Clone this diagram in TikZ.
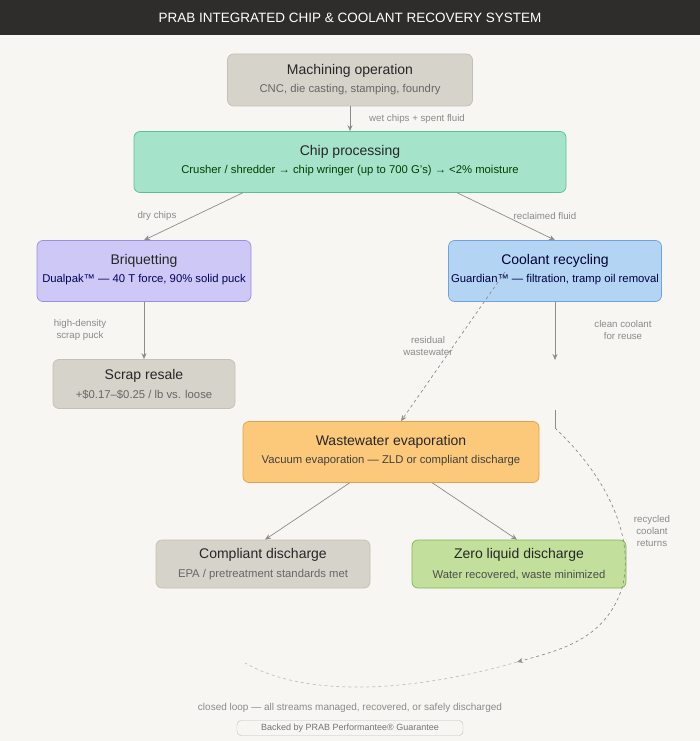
\documentclass[tikz,border=0pt]{standalone}
\usepackage{fontspec}
\setmainfont{Liberation Sans}
\usetikzlibrary{arrows.meta}
\definecolor{bg}{HTML}{F7F6F2}
\definecolor{bar}{HTML}{2E2D2B}
\definecolor{grayF}{HTML}{D6D3CA}\definecolor{grayB}{HTML}{C4C0B5}
\definecolor{grnF}{HTML}{A6E3CB}\definecolor{grnB}{HTML}{5DBE98}
\definecolor{purF}{HTML}{CEC8F6}\definecolor{purB}{HTML}{9C8EE2}
\definecolor{bluF}{HTML}{B4D4F4}\definecolor{bluB}{HTML}{6FA2DE}
\definecolor{orF}{HTML}{FCC97B}\definecolor{orB}{HTML}{E3A24A}
\definecolor{limF}{HTML}{C2E09B}\definecolor{limB}{HTML}{7DB64F}
\definecolor{lbl}{HTML}{8A8A8A}\definecolor{arr}{HTML}{8C8C8C}
\begin{document}
\begin{tikzpicture}[x=1pt,y=-1pt,
 box/.style={rounded corners=6pt,line width=0.7pt,align=center,inner sep=0pt},
 ttl/.style={font=\fontsize{14}{16}\selectfont,text=black!85},
 sub/.style={font=\fontsize{11.3}{13}\selectfont},
 lab/.style={font=\fontsize{9.7}{12}\selectfont,text=lbl,align=center},
 con/.style={draw=arr,line width=0.7pt,-{Stealth[length=6pt,width=5pt]}}]
\fill[bg] (0,0) rectangle (700,741);
\fill[bar] (0,0) rectangle (700,35);
\node[text=white,font=\fontsize{13.5}{15}\selectfont] (title) at (350,18) {PRAB INTEGRATED CHIP \& COOLANT RECOVERY SYSTEM};
\node[box,fill=grayF,draw=grayB,minimum width=245pt,minimum height=52pt] (mach) at (350,80) {};
\node[ttl] at (350,71) {Machining operation};
\node[sub,text=black!60] at (350,90) {CNC, die casting, stamping, foundry};
\node[box,fill=grnF,draw=grnB,minimum width=432pt,minimum height=61pt] (chip) at (350,162) {};
\node[ttl] at (350,152) {Chip processing};
\node[sub,text=green!25!black] at (350,171) {Crusher / shredder → chip wringer (up to 700 G's) → <2\% moisture};
\node[box,fill=purF,draw=purB,minimum width=214pt,minimum height=61pt] (briq) at (144,271) {};
\node[ttl] at (144,261) {Briquetting};
\node[sub,text=blue!35!black] at (144,280) {Dualpak™ — 40 T force, 90\% solid puck};
\node[box,fill=bluF,draw=bluB,minimum width=213pt,minimum height=61pt] (cool) at (555,271) {};
\node[ttl,text=blue!20!black] at (555,261) {Coolant recycling};
\node[sub,text=blue!25!black] at (555,280) {Guardian™ — filtration, tramp oil removal};
\node[box,fill=grayF,draw=grayB,minimum width=182pt,minimum height=49pt] (scrap) at (144,384) {};
\node[ttl] at (144,376) {Scrap resale};
\node[sub,text=black!60] at (144,395) {+\$0.17–\$0.25 / lb vs. loose};
\node[box,fill=orF,draw=orB,minimum width=296pt,minimum height=61pt] (waste) at (391,452) {};
\node[ttl] at (391,442) {Wastewater evaporation};
\node[sub,text=black!75] at (391,461) {Vacuum evaporation — ZLD or compliant discharge};
\node[box,fill=grayF,draw=grayB,minimum width=214pt,minimum height=48pt] (comp) at (263,564) {};
\node[ttl] at (263,555) {Compliant discharge};
\node[sub,text=black!60] at (263,575) {EPA / pretreatment standards met};
\node[box,fill=limF,draw=limB,minimum width=214pt,minimum height=48pt] (zld) at (519,564) {};
\node[ttl] at (519,555) {Zero liquid discharge};
\node[sub,text=black!70] at (519,575) {Water recovered, waste minimized};
% connectors
\draw[con] (mach.south) -- (chip.north);
\node[lab] (l1) at (417,119) {wet chips + spent fluid};
\draw[con] ([xshift=109pt]chip.south west) -- (briq.north);
\node[lab] (l2) at (157,216) {dry chips};
\draw[con] ([xshift=-109pt]chip.south east) -- (cool.north);
\node[lab] (l3) at (545,216) {reclaimed fluid};
\draw[con] (briq.south) -- (scrap.north);
\node[lab] (l4) at (80,330) {high-density\\scrap puck};
\coordinate (ws) at (505,272);
\draw[con,dashed] (ws) -- ([xshift=10pt]waste.north);
\node[lab] (l5) at (428,346) {residual\\wastewater};
\coordinate (ce) at (555,360);
\draw[con] (cool.south) -- (ce);
\node[lab] (l6) at (623,330) {clean coolant\\for reuse};
\draw[con] ([xshift=107pt]waste.south west) -- ([xshift=2pt]comp.north);
\draw[con] ([xshift=-107pt]waste.south east) -- ([xshift=-2pt]zld.north);
\coordinate (r0) at (555,410);\coordinate (r1) at (555,428);
\coordinate (r2) at (622,588);\coordinate (r3) at (517,662);\coordinate (r4) at (245,663);
\draw[arr,line width=0.7pt] (r0) -- (r1);
\draw[con,dashed] (r1) .. controls (610,480) and (635,540) .. (r2) .. controls (605,640) and (560,650) .. (r3);
\draw[arr!55,line width=0.7pt,dashed] (r3) .. controls (420,690) and (310,700) .. (r4);
\node[lab] (l7) at (652,531) {recycled\\coolant\\returns};
\node[lab,font=\fontsize{10}{12}\selectfont] (foot) at (350,708) {closed loop — all streams managed, recovered, or safely discharged};
\node[draw=black!25,rounded corners=4pt,minimum width=226pt,minimum height=15pt,inner sep=0pt,font=\fontsize{9}{10}\selectfont,text=black!55] (guar) at (350,728) {Backed by PRAB Performantee® Guarantee};
\end{tikzpicture}
\end{document}
